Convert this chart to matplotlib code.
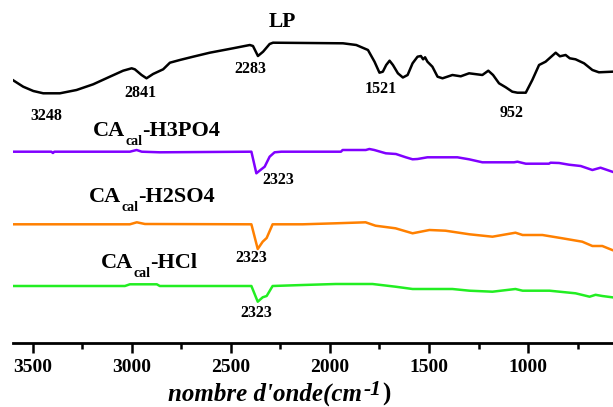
import matplotlib
matplotlib.use('Agg')
import matplotlib.pyplot as plt
from matplotlib.ticker import MultipleLocator
import numpy as np

plt.rcParams['font.family'] = 'Liberation Serif'
plt.rcParams['font.weight'] = 'bold'

# FTIR spectra, wavenumber (cm-1) vs transmittance (a.u., stacked)
wn_lp = [3600, 3547, 3496, 3446, 3362, 3278, 3194, 3110, 3043, 3000, 2984, 2950, 2925,
         2892, 2841, 2807, 2757, 2690, 2606, 2489, 2404, 2388, 2363, 2337, 2304, 2287,
         1934, 1867, 1808, 1775, 1750, 1733, 1716, 1699, 1682, 1657, 1632, 1608, 1583,
         1558, 1541, 1530, 1520, 1508, 1483, 1457, 1432, 1382, 1340, 1298, 1231, 1201,
         1177, 1147, 1113, 1080, 1054, 1012, 979, 945, 912, 861, 840, 811, 790, 761,
         718, 676, 643, 576]
t_lp = [263.3, 256.6, 252.3, 250, 250, 253.3, 259, 266.6, 272.6, 275, 274, 268.3, 265,
        269.3, 274, 280.6, 283.3, 286.6, 290.6, 295, 298.3, 297.3, 287.3, 291.6, 299.3, 300.6,
        300, 298.3, 293.3, 281.6, 270.6, 271.6, 278.3, 282.6, 278.3, 270, 265.8, 268.3, 280,
        286.6, 287.3, 284, 286, 281.6, 276.6, 266.6, 265, 268.3, 267, 270, 268.3, 272.6,
        268.3, 260, 256, 251.6, 250.6, 250.6, 263.3, 278.3, 281.6, 290.6, 287, 288.3, 285, 284,
        280, 273.3, 271, 271.6]

wn_h3po4 = [3600, 3405, 3397, 3390, 3009, 2975, 2949, 2858, 2396, 2371, 2346, 2329, 2304,
            2279, 2245, 1944, 1936, 1819, 1801, 1776, 1718, 1667, 1617, 1583, 1558, 1508,
            1357, 1298, 1231, 1071, 1054, 1012, 895, 887, 844, 794, 735, 676, 635, 601, 576]
t_h3po4 = [191.6, 191.6, 190.3, 191.6, 191.6, 193.3, 191.6, 191, 191.6, 170, 174, 176.6, 186.6,
           191, 191.6, 191.6, 193.3, 193.3, 194.3, 193.3, 190, 189.3, 186, 184, 184.3, 186,
           186, 184, 181, 181, 181.6, 179.6, 179.6, 180.6, 180.3, 178.6, 177.3, 173.3, 175.6,
           173.3, 171.6]

wn_h2so4 = [3600, 3009, 2974, 2933, 2396, 2364, 2339, 2319, 2289, 2137, 1971, 1820, 1770,
            1669, 1583, 1498, 1417, 1296, 1180, 1064, 1028, 928, 827, 727, 676, 626, 576]
t_h2so4 = [119, 119, 121, 119.3, 119, 94.3, 101.6, 105.3, 119, 119, 120, 121, 117.6,
           115, 110, 113.3, 112.6, 109, 106.6, 110.6, 108.3, 108.3, 105, 101.6, 97.3, 97.3, 93.3]

wn_hcl = [3600, 3034, 3009, 2873, 2858, 2396, 2364, 2339, 2319, 2289, 2137, 1971, 1785,
          1669, 1583, 1382, 1296, 1180, 1064, 1028, 892, 761, 690, 660, 626, 576]
t_hcl = [57.3, 57.3, 59, 59, 57.3, 57.3, 41.6, 46, 47.3, 57.3, 58.3, 59.3, 59.3,
         56.6, 54.3, 54.3, 52.6, 51.6, 54.3, 52.6, 52.6, 50, 46.6, 48.5, 47.3, 46]

# peak labels: text, wavenumber, level
peak_labels = [('3248', 3429, 227.3), ('2841', 2955, 250), ('2283', 2401, 274.3),
               ('1521', 1741, 254.3), ('952', 1083, 230.6),
               ('2323', 2262, 163.3), ('2323', 2399, 85), ('2323', 2369, 30.6)]

# sample names: suffix, wavenumber of left edge, baseline level
sample_labels = [('-H3PO4', 3194, 207.3), ('-H2SO4', 3216, 141.6), ('-HCl', 3155, 75)]

fig = plt.figure(figsize=(6.13, 4.07), dpi=100)
ax = fig.add_axes([12.7 / 613, 1 - 343.3 / 407, 1 - 12.7 / 613, 343.3 / 407])

ax.plot(wn_lp, t_lp, color='black', lw=1.8)
ax.plot(wn_h3po4, t_h3po4, color='#8000ff', lw=1.8)
ax.plot(wn_h2so4, t_h2so4, color='#ff8000', lw=1.8)
ax.plot(wn_hcl, t_hcl, color='#22ee22', lw=1.8)

ax.set_xlim(3600, 572)
ax.set_ylim(0, 343.3)

for lab, x, y in peak_labels:
    ax.text(x, y, lab, ha='center', va='center', fontsize=11.5, fontweight='bold')

ax.text(2238, 321.6, 'LP', ha='center', va='center', fontsize=15.5, fontweight='bold')

# CA + subscript cal + suffix, laid out piece by piece
for suffix, x, y in sample_labels:
    t1 = ax.text(x, y, 'CA', ha='left', va='baseline', fontsize=16, fontweight='bold')
    t2 = ax.annotate('cal', xy=(1, 0), xycoords=t1, xytext=(0, -0.5), textcoords='offset points',
                     ha='left', va='center', fontsize=10, fontweight='bold')
    ax.annotate(suffix, xy=(1, 0), xycoords=(t2, t1), xytext=(0, 0), textcoords='offset points',
                ha='left', va='bottom', fontsize=16, fontweight='bold')

for s in ['top', 'right', 'left']:
    ax.spines[s].set_visible(False)
ax.spines['bottom'].set_linewidth(2)
ax.set_yticks([])
ax.xaxis.set_major_locator(MultipleLocator(500))
ax.xaxis.set_minor_locator(MultipleLocator(250))
ax.tick_params(axis='x', which='major', length=7, width=1.8, pad=4, labelsize=14)
ax.tick_params(axis='x', which='minor', length=4.5, width=1.8)
for lbl in ax.get_xticklabels():
    lbl.set_fontweight('bold')

# x label: nombre d'onde(cm^-1), built from pieces
xl1 = fig.text(168 / 613, 1 - 401 / 407, "nombre d'onde(cm", ha='left', va='baseline',
               fontsize=18, fontstyle='italic', fontweight='bold')
xl2 = fig.add_artist(plt.Annotation('-1', xy=(1, 1), xycoords=xl1, xytext=(1, 2),
                                    textcoords='offset points', ha='left', va='top',
                                    fontsize=15.5, fontstyle='italic', fontweight='bold'))
fig.add_artist(plt.Annotation(')', xy=(1, 0), xycoords=(xl2, xl1), xytext=(1, 0),
                              textcoords='offset points', ha='left', va='bottom',
                              fontsize=18, fontweight='bold'))

fig.savefig('out.png', dpi=100)
